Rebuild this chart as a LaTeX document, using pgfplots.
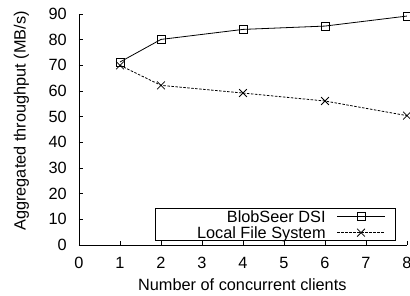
\documentclass[border=0pt]{standalone}
\usepackage{fontspec}
\setmainfont{Liberation Sans}
\usepackage{pgfplots}
\pgfplotsset{compat=1.18}
\begin{document}
\begin{tikzpicture}[font=\fontsize{16.3}{19}\selectfont]
\begin{axis}[
  scale only axis, width=328pt, height=231pt,
  xmin=0, xmax=8, ymin=0, ymax=90,
  xtick={0,1,...,8}, ytick={0,10,...,90},
  axis x line=bottom, axis y line=left,
  axis line style={-, line width=0.8pt},
  tick align=inside, major tick length=4pt,
  tick style={line width=0.7pt, black},
  /pgf/number format/assume math mode=true,
  tick label style={font=\fontsize{16.3}{19}\selectfont, inner sep=0pt},
  xticklabel style={yshift=-12pt},
  yticklabel style={xshift=-12pt},
  label style={font=\fontsize{16.3}{19}\selectfont},
  xlabel={Number of concurrent clients},
  ylabel={Aggregated throughput (MB/s)},
  xlabel style={at={(axis description cs:0.498,-0.199)}, anchor=base},
  ylabel style={at={(axis description cs:-0.163,0.537)}, anchor=base},
  legend plot pos=right,
  legend cell align=right,
  legend style={at={(rel axis cs:0.966,0.017)}, anchor=south east,
    draw=black, line width=0.8pt, fill=white,
    inner sep=0pt, row sep=0pt, column sep=11pt,
    font=\fontsize{16.3}{19}\selectfont,
    nodes={inner sep=0pt, text height=14pt, text depth=2pt}},
  legend image code/.code={%
    \draw[#1, mark repeat=2, mark phase=2] plot coordinates {(0pt,0pt) (24pt,0pt) (48pt,0pt)};
    \path (58pt,0pt);
    \pgfsetbaseline{-6.5pt}},
]
\addplot[black, line width=0.8pt, mark=square, mark size=4pt, mark options={solid}]
  coordinates {(1,71.3) (2,80.1) (4,84.0) (6,85.3) (8,89.2)};
\addlegendentry{\makebox[170pt][r]{BlobSeer DSI}}
\addplot[black, line width=0.8pt, dash pattern=on 2.5pt off 1.5pt, mark=x, mark size=5.5pt, mark options={solid}]
  coordinates {(1,70.0) (2,62.2) (4,59.2) (6,56.1) (8,50.4)};
\addlegendentry{\makebox[170pt][r]{Local File System}}
\end{axis}
\pgfresetboundingbox
\path[use as bounding box] ([xshift=-79pt,yshift=-51pt]current axis.south west) rectangle ([xshift=331pt,yshift=245pt]current axis.south west);
\end{tikzpicture}
\end{document}
